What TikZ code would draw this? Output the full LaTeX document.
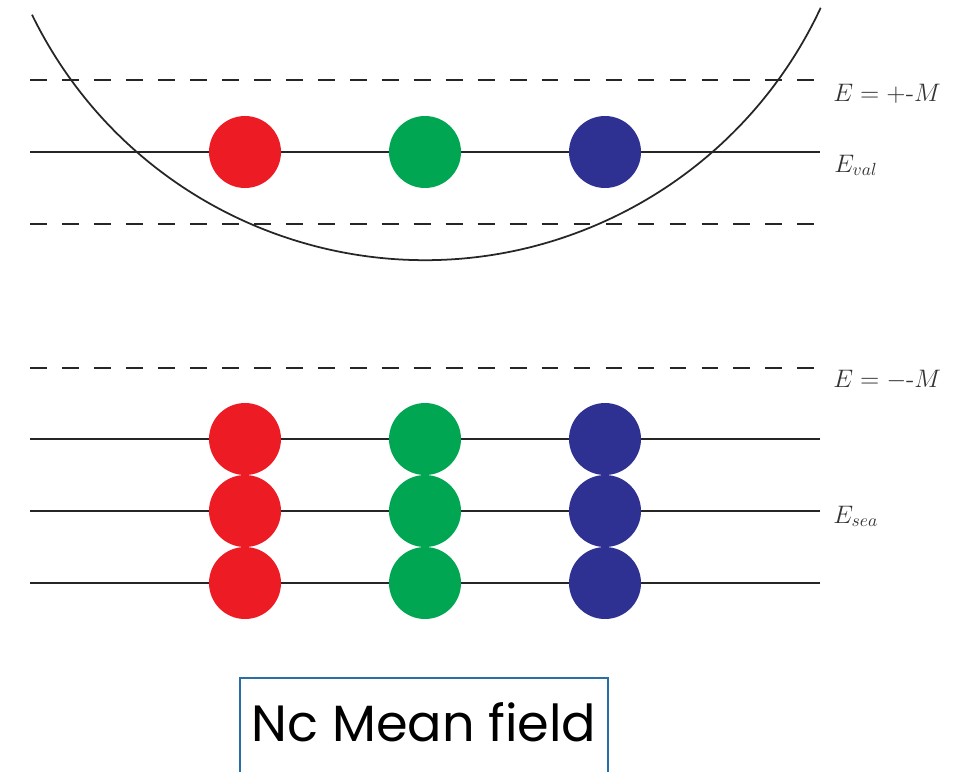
\documentclass[tikz,border=0pt]{standalone}
\usepackage{fontspec}
\newfontfamily\boxfont{Poppins}
\definecolor{qred}{HTML}{ED1C24}
\definecolor{qgreen}{HTML}{00A651}
\definecolor{qblue}{HTML}{2E3192}
\definecolor{boxblue}{HTML}{2A6EA6}
\tikzset{
  level/.style={line width=1.1pt,draw=black!85},
  dirac/.style={level,dash pattern=on 9.6pt off 8.6pt},
  quark/.style={circle,inner sep=0pt,minimum size=1.44cm},
  elabel/.style={anchor=base west,inner sep=0pt,font=\fontsize{14.5}{17}\selectfont,text=black!80},
  namebox/.style={draw=boxblue,line width=1.4pt,minimum width=7.36cm,inner ysep=0.52cm,
    text height=0.74cm,text depth=1cm,font=\boxfont\fontsize{29}{34}\selectfont}
}
\begin{document}
  \begin{tikzpicture}[x=0.02cm,y=-0.02cm]
    \useasboundingbox (0,0) rectangle (966,771);

    % levels
    \draw[dirac] (30,80) -- (820,80);
    \draw[level] (30,152) -- (820,152);
    \draw[dirac] (30,224) -- (820,224);
    \draw[dirac] (30,368) -- (820,368);
    \foreach \y in {439,511,583}
      \draw[level] (30,\y) -- (820,\y);

    % potential well
    \draw[line width=1pt,black!85] (32,14.7) arc[start angle=206,end angle=335,radius=8.74cm];

    % valence quarks
    \node[quark,fill=qred] (vr) at (245,152) {};
    \node[quark,fill=qgreen] (vg) at (425,152) {};
    \node[quark,fill=qblue] (vb) at (605,152) {};

    % sea quarks
    \foreach \y/\n in {439/1,511/2,583/3} {
      \node[quark,fill=qred] (sr\n) at (245,\y) {};
      \node[quark,fill=qgreen] (sg\n) at (425,\y) {};
      \node[quark,fill=qblue] (sb\n) at (605,\y) {};
    }

    \node[elabel] (eplus) at (833,101) {$E=+\mbox{-}M$};
    \node[elabel] (eval) at (834,172) {$E_{val}$};
    \node[elabel] (eminus) at (833,387) {$E=-\mbox{-}M$};
    \node[elabel] (esea) at (833,523) {$E_{sea}$};

    \node[namebox,anchor=north] (mf) at (424,677) {Nc Mean field};
  \end{tikzpicture}
\end{document}
